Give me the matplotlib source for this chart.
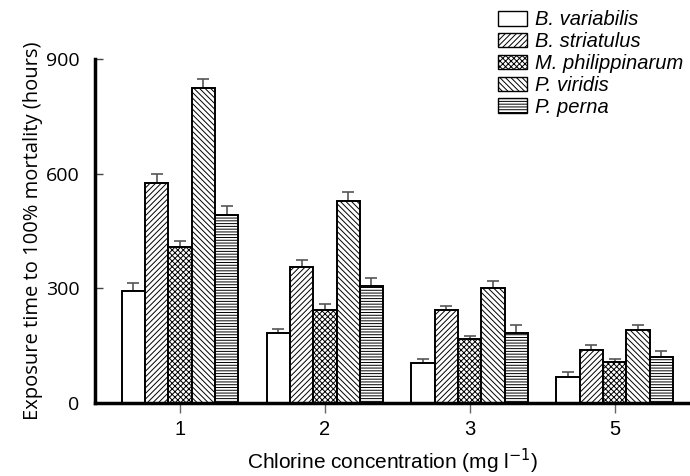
import numpy as np
import matplotlib
matplotlib.use('Agg')
from matplotlib import pyplot as plt

# chlorine concentrations (mg/l) and hours to 100% mortality
concentrations = ['1', '2', '3', '5']
species = ['B. variabilis', 'B. striatulus', 'M. philippinarum', 'P. viridis', 'P. perna']

variabilis = [293, 182, 105, 69]
striatulus = [576, 357, 242, 139]
philippinarum = [407, 244, 167, 108]
viridis = [823, 529, 301, 192]
perna = [492, 305, 184, 121]

variabilis_err = [20, 11, 11, 12]
striatulus_err = [22, 18, 13, 12]
philippinarum_err = [18, 15, 9, 8]
viridis_err = [24, 23, 18, 12]
perna_err = [24, 21, 20, 16]

yticks = [0, 300, 600, 900]

series = [variabilis, striatulus, philippinarum, viridis, perna]
errors = [variabilis_err, striatulus_err, philippinarum_err, viridis_err, perna_err]
hatches = [None, '//////', 'xxxxxx', '\\\\\\\\\\\\', '------']

plt.rcParams['hatch.linewidth'] = 0.7
plt.rcParams['hatch.color'] = '#222222'

fig = plt.figure(figsize=(6.9, 4.76), dpi=100)
ax = fig.add_axes([0.1377, 0.1534, 0.8623, 0.7227])

x = np.arange(len(concentrations))
w = 0.161
for i in range(len(series)):
    pos = x + (i - 2) * w
    vals = series[i]
    ax.bar(pos, vals, w, color='white', edgecolor='black', linewidth=1.4,
           hatch=hatches[i], label=species[i], zorder=2)
    err = [np.zeros(len(vals)), errors[i]]
    ax.errorbar(pos, vals, yerr=err, fmt='none', ecolor='#555555',
                elinewidth=1.2, capsize=4.5, capthick=1.2, zorder=1)

ax.set_xlim(-0.586, 3.52)
ax.set_ylim(0, 900)
ax.set_xticks(x)
ax.set_xticklabels(concentrations, family='Liberation Sans', fontsize=14.5)
ax.set_yticks(yticks)
ax.set_yticklabels([str(v) for v in yticks], family='Open Sans', fontsize=14)

for s in ['top', 'right']:
    ax.spines[s].set_visible(False)
ax.spines['left'].set_linewidth(2.5)
ax.spines['bottom'].set_linewidth(2.5)

ax.tick_params(axis='y', direction='in', length=6, width=1, color='#444444', pad=11)
ax.tick_params(axis='x', direction='out', length=7, width=1, color='#666666', pad=5)

ax.set_xlabel('Chlorine concentration (mg l$^{-1}$)', family='Liberation Sans',
              fontsize=15, labelpad=6)
ax.set_ylabel('Exposure time to 100% mortality (hours)', family='Open Sans',
              fontsize=14.5, labelpad=2)

leg = fig.legend(loc='upper left', bbox_to_anchor=(0.71, 0.995), frameon=False,
                 handlelength=1.45, handleheight=0.72, labelspacing=0.14,
                 handletextpad=0.4, borderaxespad=0,
                 prop={'family': 'Liberation Sans', 'style': 'italic', 'size': 14.5})
for h in leg.legend_handles:
    h.set_linewidth(1.0)

fig.savefig('out.png', dpi=100)
